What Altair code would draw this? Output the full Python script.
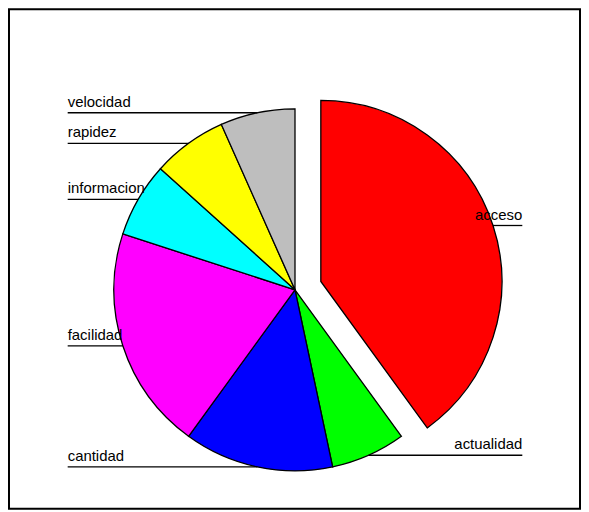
import json
import altair as alt
import pandas as pd

# ---- data ----
labels = ["acceso", "actualidad", "cantidad", "facilidad", "informacion", "rapidez", "velocidad"]
values = [6, 1, 2, 3, 1, 1, 1]
colors = ["#FF0000", "#00FF00", "#0000FF", "#FF00FF", "#00FFFF", "#FFFF00", "#BEBEBE"]
exploded = ["acceso"]

df = pd.DataFrame({"label": labels, "value": values, "order": list(range(len(labels)))})

# ---- layout (pixels / unit-circle coordinates) ----
W, H = 574, 502
R = 182
CX, CY = 287.5, 282
EXPLODE = 0.15
LABEL_X = 1.2555
FONT = "Liberation Sans, Arial, Helvetica, sans-serif"

xs = alt.Scale(domain=[-CX / R, (W - CX) / R], range=[0, W], nice=False, zero=False)
ys = alt.Scale(domain=[-(H - CY) / R, CY / R], range=[H, 0], nice=False, zero=False)

base = (
    alt.Chart(df)
    .transform_window(cum="sum(value)", sort=[alt.SortField("order")], frame=[None, 0])
    .transform_joinaggregate(total="sum(value)")
    .transform_calculate(
        start="2*PI*(datum.cum - datum.value)/datum.total",
        end="2*PI*datum.cum/datum.total",
    )
    .transform_calculate(mid="(datum.start + datum.end)/2")
    .transform_calculate(
        off=f"indexof({json.dumps(exploded)}, datum.label) >= 0 ? {EXPLODE} : 0"
    )
    .transform_calculate(ex="datum.off*sin(datum.mid)", ey="datum.off*cos(datum.mid)")
    .transform_calculate(px="datum.ex + sin(datum.mid)", py="datum.ey + cos(datum.mid)")
    .transform_calculate(lx=f"(datum.px < 0 ? -1 : 1)*{LABEL_X}")
)

arcs = base.mark_arc(stroke="black", strokeWidth=1.3, radius=R).encode(
    theta=alt.Theta("start:Q", scale=None),
    theta2="end:Q",
    x=alt.X("ex:Q", scale=xs, axis=None),
    y=alt.Y("ey:Q", scale=ys, axis=None),
    color=alt.Color("label:N", scale=alt.Scale(domain=labels, range=colors), legend=None),
    order=alt.Order("order:Q"),
)

rules = base.mark_rule(color="black", strokeWidth=1.3).encode(
    x=alt.X("lx:Q", scale=xs, axis=None),
    x2="px:Q",
    y=alt.Y("py:Q", scale=ys, axis=None),
)

text_left = base.transform_filter("datum.px < 0").mark_text(
    align="left", baseline="alphabetic", dy=-6, fontSize=15, font=FONT, color="black"
).encode(
    x=alt.X("lx:Q", scale=xs, axis=None),
    y=alt.Y("py:Q", scale=ys, axis=None),
    text="label:N",
)

text_right = base.transform_filter("datum.px >= 0").mark_text(
    align="right", baseline="alphabetic", dy=-6, fontSize=15, font=FONT, color="black"
).encode(
    x=alt.X("lx:Q", scale=xs, axis=None),
    y=alt.Y("py:Q", scale=ys, axis=None),
    text="label:N",
)

chart = (
    alt.layer(arcs, rules, text_left, text_right)
    .properties(
        width=W,
        height=H,
        autosize=alt.AutoSizeParams(type="none"),
        padding={"left": 1, "top": 0, "right": 1, "bottom": 1},
    )
    .configure_view(stroke="black", strokeWidth=2)
)

chart.save("out.html", embed_options={"renderer": "svg", "actions": False})
